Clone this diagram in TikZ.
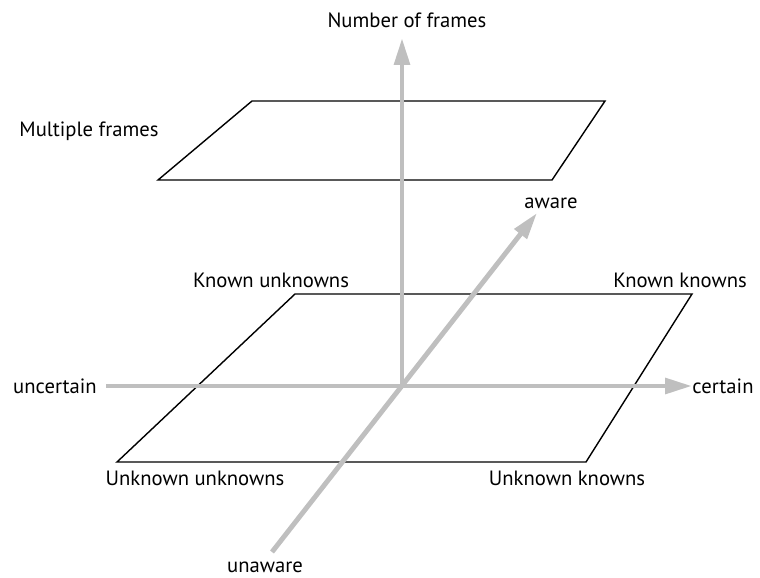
\documentclass[tikz,border=0pt]{standalone}
\usepackage{fontspec}
\setmainfont{PT Sans}
\usetikzlibrary{arrows.meta}

\begin{document}
\begin{tikzpicture}[
			x=0.025cm, y=-0.025cm,
			axis/.style={
				-{Triangle[length=0.67cm,width=0.38cm]},
				line width=3.5pt,
				draw=black!25
			},
			plane/.style={
				line width=1pt,
				draw=black,
				line join=miter
			},
			lbl/.style={
				inner sep=0pt,
				font=\fontsize{14.7}{17}\selectfont
			}
			]
			\useasboundingbox (0,0) rectangle (760,577);
			% axes
			\coordinate (origin) at (402,386);
			\coordinate (left) at (106,386);
			\coordinate (right) at (692,386);
			\coordinate (top) at (402,38);
			\coordinate (front) at (272,552);
			\coordinate (back) at (537,213);
			% planes
			\draw[plane] (252,101) -- (605,101) -- (552,180) -- (158,180) -- cycle;
			\draw[plane] (295,294) -- (692,294) -- (586,462) -- (117,462) -- cycle;
			\draw[axis] (left) -- (right);
			\draw[axis] (origin) -- (top);
			\draw[axis] (front) -- (back);
			% labels
			\node[lbl] (frames) at (407,20) {Number of frames};
			\node[lbl] (multi) at (89,131) {Multiple frames};
			\node[lbl] (aware) at (551,203) {aware};
			\node[lbl] (unaware) at (265,567) {unaware};
			\node[lbl] (certain) at (723,386) {certain};
			\node[lbl] (uncertain) at (55,386) {uncertain};
			\node[lbl] (ku) at (271,280) {Known unknowns};
			\node[lbl] (kk) at (680,280) {Known knowns};
			\node[lbl] (uu) at (195,478) {Unknown unknowns};
			\node[lbl] (uk) at (567,478) {Unknown knowns};
		\end{tikzpicture}
\end{document}
